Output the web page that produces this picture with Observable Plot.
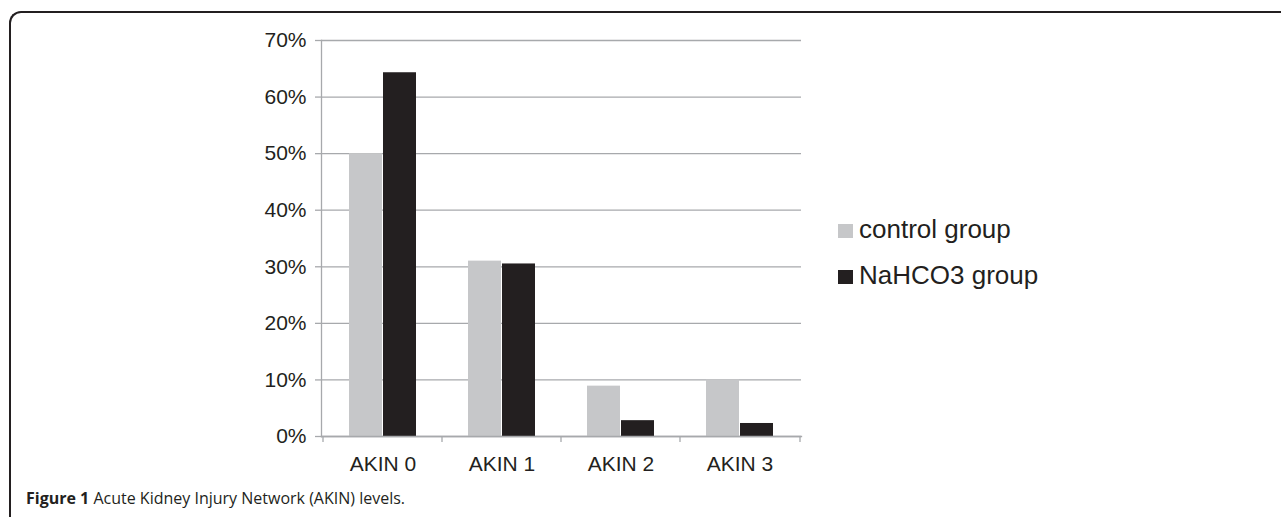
<!DOCTYPE html>
<html>
<head>
<meta charset="utf-8">
<script src="https://cdn.jsdelivr.net/npm/d3@7"></script>
<script src="https://cdn.jsdelivr.net/npm/@observablehq/plot@0.6"></script>
<style>
  html, body { margin: 0; padding: 0; background: #fff; width: 1281px; height: 517px; overflow: hidden; }
  #frame { position: absolute; left: 9px; top: 11px; width: 1300px; height: 600px;
           border-top: 2px solid #231f20; border-left: 2px solid #231f20; border-top-left-radius: 12px; }
  #chart { position: absolute; left: 0; top: 0; }
  #legend { position: absolute; left: 838px; top: 206px; font-family: "Liberation Sans", Arial, sans-serif;
            font-size: 26px; color: #231f20; }
  #legend .item { display: flex; align-items: center; height: 46px; }
  #legend .sw { width: 15px; height: 14px; margin-right: 6px; margin-top: 4px; }
  #caption { position: absolute; left: 26px; top: 487px; font-family: "Open Sans", "Noto Sans", sans-serif;
             font-size: 16px; color: #231f20; white-space: nowrap; }
  #caption b { font-weight: 700; }
</style>
</head>
<body>
<div id="frame"></div>
<div id="chart"></div>
<div id="legend"></div>
<div id="caption"><b>Figure 1</b> Acute Kidney Injury Network (AKIN) levels.</div>
<script>
const categories = ["AKIN 0", "AKIN 1", "AKIN 2", "AKIN 3"];
const seriesNames = ["control group", "NaHCO3 group"];
const controlValues = [0.50, 0.31, 0.089, 0.10];
const nahco3Values = [0.643, 0.305, 0.028, 0.023];
const yTicks = [0, 0.1, 0.2, 0.3, 0.4, 0.5, 0.6, 0.7];
const seriesColors = ["#c6c7c9", "#231f20"];

const control = categories.map((c, i) => ({category: c, value: controlValues[i]}));
const nahco3 = categories.map((c, i) => ({category: c, value: nahco3Values[i]}));
const grid = "#a7a9ac";

const chart = Plot.plot({
  width: 1281,
  height: 500,
  marginLeft: 321,
  marginRight: 480,
  marginTop: 40,
  marginBottom: 64,
  style: {fontFamily: "Liberation Sans, Arial, sans-serif", color: "#231f20", background: "transparent"},
  x: {domain: categories, paddingInner: 0.4333, paddingOuter: 0.2167},
  y: {domain: [0, 0.7]},
  marks: [
    Plot.gridY(yTicks, {stroke: grid, strokeOpacity: 1, strokeWidth: 1.3}),
    Plot.axisY(yTicks, {tickSize: 6, tickPadding: 9, tickFormat: d => Math.round(d * 100) + "%",
      fontSize: 21, stroke: grid, strokeWidth: 1.3, label: null}),
    Plot.frame({anchor: "left", stroke: grid, strokeWidth: 1.3}),
    Plot.barY(control, {x: "category", y: "value", fill: seriesColors[0], insetRight: 34}),
    Plot.barY(nahco3, {x: "category", y: "value", fill: seriesColors[1], insetLeft: 34}),
    Plot.frame({anchor: "bottom", stroke: grid, strokeWidth: 1.3}),
    Plot.ruleX(categories, {x: d => d, dx: -60, insetTop: 396, insetBottom: -6, stroke: grid, strokeWidth: 1.3}),
    Plot.ruleX(categories.slice(-1), {x: d => d, dx: 60, insetTop: 396, insetBottom: -6, stroke: grid, strokeWidth: 1.3}),
    Plot.axisX({tickSize: 0, tickPadding: 20, fontSize: 21, label: null})
  ]
});
document.getElementById("chart").appendChild(chart);

const legend = document.getElementById("legend");
seriesNames.forEach((name, i) => {
  const item = document.createElement("div");
  item.className = "item";
  const sw = document.createElement("span");
  sw.className = "sw";
  sw.style.background = seriesColors[i];
  const t = document.createElement("span");
  t.textContent = name;
  item.appendChild(sw);
  item.appendChild(t);
  legend.appendChild(item);
});
</script>
</body>
</html>
